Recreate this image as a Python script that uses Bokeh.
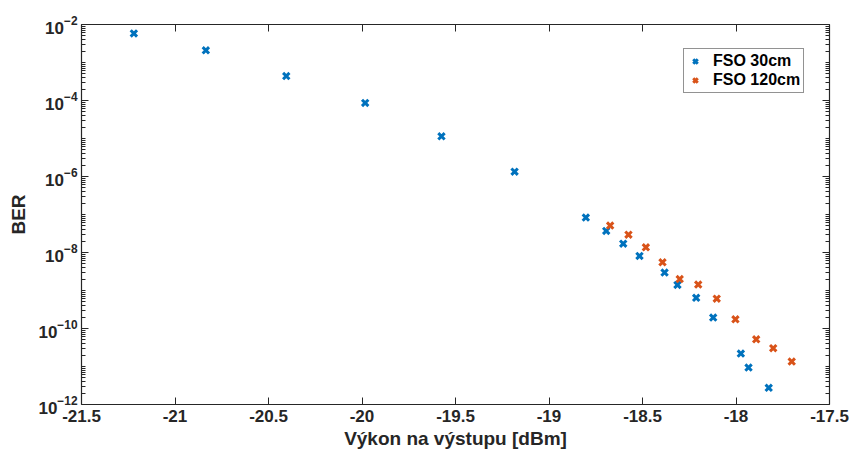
from bokeh.plotting import figure
from bokeh.models import (LogAxis, LinearAxis, FixedTicker, Legend, LegendItem,
                          ColumnDataSource, Range1d, CustomJSTickFormatter)
from bokeh.embed import file_html
from bokeh.resources import INLINE

# Measured BER vs. received optical power
power_30 = [-21.22, -20.835, -20.405, -19.983, -19.575, -19.184,
            -18.803, -18.694, -18.603, -18.516, -18.382, -18.313,
            -18.213, -18.122, -17.974, -17.933, -17.825]
ber_30 = [5.8e-3, 2.1e-3, 4.4e-4, 8.6e-5, 1.14e-5, 1.34e-6,
          8.3e-8, 3.7e-8, 1.71e-8, 8.1e-9, 2.96e-9, 1.40e-9,
          6.4e-10, 1.94e-10, 2.19e-11, 9.4e-12, 2.75e-12]

power_120 = [-18.673, -18.575, -18.482, -18.393, -18.301, -18.202,
             -18.103, -18.003, -17.892, -17.801, -17.702]
ber_120 = [5.1e-8, 2.95e-8, 1.37e-8, 5.5e-9, 2.0e-9, 1.43e-9,
           6.1e-10, 1.75e-10, 5.2e-11, 3.03e-11, 1.35e-11]

x_ticks = [-21.5, -21, -20.5, -20, -19.5, -19, -18.5, -18, -17.5]
x_tick_labels = ["-21.5", "-21", "-20.5", "-20", "-19.5", "-19", "-18.5", "-18", "-17.5"]
y_ticks = [1e-12, 1e-10, 1e-8, 1e-6, 1e-4, 1e-2]
y_minor = [k * 10.0 ** e for e in range(-12, -2) for k in range(2, 10)] + \
          [10.0 ** e for e in range(-11, -2, 2)]

BLUE = "#0072BD"
ORANGE = "#D95319"
AXIS = "#262626"
FONT = "Liberation Sans"

p = figure(width=852, height=459, y_axis_type="log",
           x_range=Range1d(-21.5, -17.5), y_range=Range1d(1e-12, 1e-2),
           output_backend="svg", toolbar_location=None,
           min_border_left=81, min_border_right=23,
           min_border_top=24, min_border_bottom=55)
p.grid.visible = False
p.outline_line_color = None
p.background_fill_color = "white"
p.border_fill_color = "white"

src30 = ColumnDataSource(dict(x=power_30, y=ber_30))
src120 = ColumnDataSource(dict(x=power_120, y=ber_120))
r30 = p.scatter("x", "y", source=src30, marker="x", size=9,
                line_color=BLUE, line_width=3)
r120 = p.scatter("x", "y", source=src120, marker="x", size=9,
                 line_color=ORANGE, line_width=3)


def style(ax):
    ax.axis_line_color = AXIS
    ax.axis_line_width = 1.2
    ax.major_tick_line_color = AXIS
    ax.minor_tick_line_color = AXIS
    ax.major_tick_in = 7
    ax.major_tick_out = 0
    ax.minor_tick_in = 4
    ax.minor_tick_out = 0
    ax.major_label_text_font = FONT
    ax.major_label_text_font_style = "bold"
    ax.major_label_text_font_size = "17px"
    ax.major_label_text_color = AXIS
    ax.axis_label_text_font = FONT
    ax.axis_label_text_font_style = "bold"
    ax.axis_label_text_font_size = "19px"
    ax.axis_label_text_color = AXIS


xa = p.xaxis[0]
xa.ticker = FixedTicker(ticks=x_ticks)
xa.major_label_overrides = {t: l for t, l in zip(x_ticks, x_tick_labels)}
xa.axis_label = "Výkon na výstupu [dBm]"
style(xa)
xa.major_label_standoff = 5
xa.axis_label_standoff = 3

ya = p.yaxis[0]
ya.ticker = FixedTicker(ticks=y_ticks, minor_ticks=y_minor)
ya.axis_label = "BER"
style(ya)
ya.major_label_standoff = 4
ya.axis_label_standoff = 6

# Box frame: top and right axes carry ticks only
top = LinearAxis(ticker=FixedTicker(ticks=x_ticks),
                 formatter=CustomJSTickFormatter(code="return ''"))
style(top)
top.major_label_standoff = 0
p.add_layout(top, "above")

right = LogAxis(ticker=FixedTicker(ticks=y_ticks, minor_ticks=y_minor),
                formatter=CustomJSTickFormatter(code="return ''"))
style(right)
right.major_label_standoff = 0
p.add_layout(right, "right")

legend = Legend(items=[LegendItem(label="FSO 30cm", renderers=[r30]),
                       LegendItem(label="FSO 120cm", renderers=[r120])],
                location=(602, 311))
legend.label_text_font = FONT
legend.label_text_font_style = "bold"
legend.label_text_font_size = "16px"
legend.label_text_color = "black"
legend.border_line_color = "#262626"
legend.border_line_width = 1
legend.background_fill_color = "white"
legend.background_fill_alpha = 1
legend.glyph_width = 16
legend.glyph_height = 16
legend.label_standoff = 10
legend.spacing = 1
legend.padding = 3
legend.margin = 0
legend.label_height = 16
p.add_layout(legend, "center")

open("out.html", "w").write(file_html(p, INLINE))
